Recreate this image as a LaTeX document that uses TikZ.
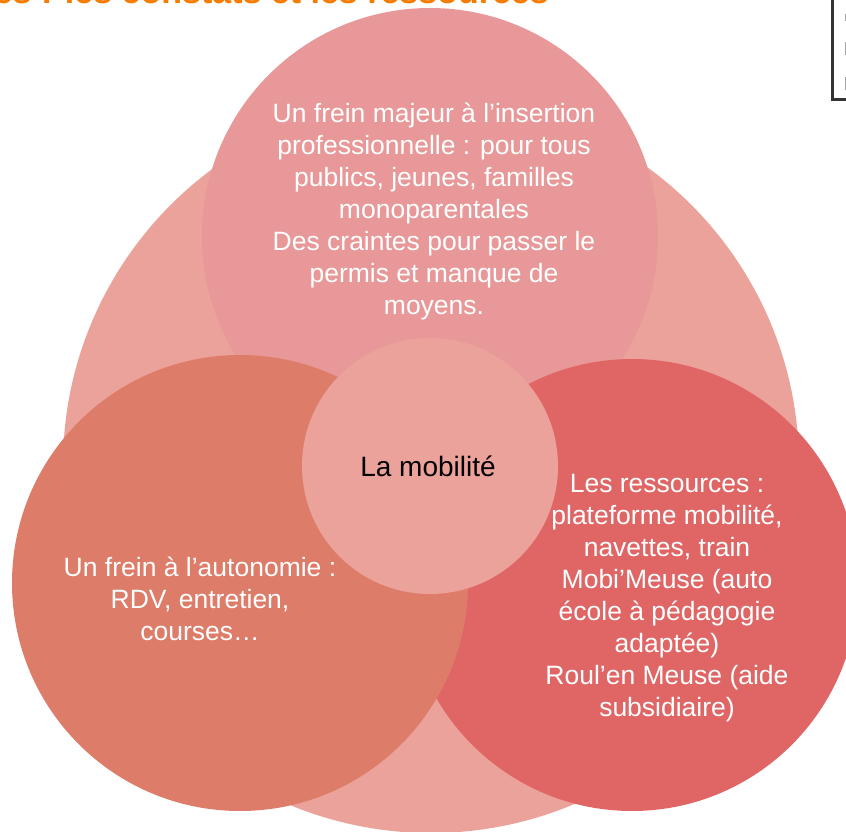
\documentclass[tikz,border=0pt]{standalone}
\usepackage{fontspec}
\setmainfont{Liberation Sans}

\definecolor{fond}{HTML}{EBA29A}
\definecolor{haut}{HTML}{E89898}
\definecolor{gauche}{HTML}{DD7C69}
\definecolor{droite}{HTML}{E06666}
\definecolor{milieu}{HTML}{EBA29A}
\definecolor{titre}{HTML}{F57C00}
\definecolor{cadre}{HTML}{333333}

\begin{document}
\begin{tikzpicture}[x=1pt,y=-1pt,
  texte/.style={text=white,align=center,inner sep=0pt,
    font=\fontsize{26.5}{32}\selectfont}]
\useasboundingbox (0,0) rectangle (846,832);
\clip (0,0) rectangle (846,832);

% les cercles
\fill[fond] (431,465) circle (368pt);
\fill[haut] (430,236) circle (228pt);
\fill[droite] (632,585) circle (226pt);
\fill[gauche] (240,583) circle (228pt);
\fill[milieu] (430,466) circle (128pt);

% titre coupe en haut
\node[anchor=base east,inner sep=0pt,text=titre,font=\bfseries\fontsize{34}{36}\selectfont] (titre) at (549,4) {es : les constats et les ressources};

% bout de cadre a droite
\draw[cadre,line width=3pt] (832.5,0) -- (832.5,100) -- (846,100);
\draw[gray!70,line width=1.5pt] (845.5,14) -- (845.5,21);
\draw[gray!70,line width=1.5pt] (845.5,42) -- (845.5,55);
\draw[gray!70,line width=1.5pt] (845.5,77) -- (845.5,90);

% les textes
\node[texte] (frein) at (434,211) {Un frein majeur à l’insertion\\professionnelle : pour tous\\publics, jeunes, familles\\monoparentales\\Des craintes pour passer le\\permis et manque de\\moyens.};
\node[texte] (autonomie) at (200,599) {Un frein à l’autonomie :\\RDV, entretien,\\courses…};
\node[texte] (ressources) at (667,598) {Les ressources :\\plateforme mobilité,\\navettes, train\\Mobi’Meuse (auto\\école à pédagogie\\adaptée)\\Roul’en Meuse (aide\\subsidiaire)};
\node[font=\fontsize{28}{32}\selectfont,text=black] (mobilite) at (428,466) {La mobilité};
\end{tikzpicture}
\end{document}
